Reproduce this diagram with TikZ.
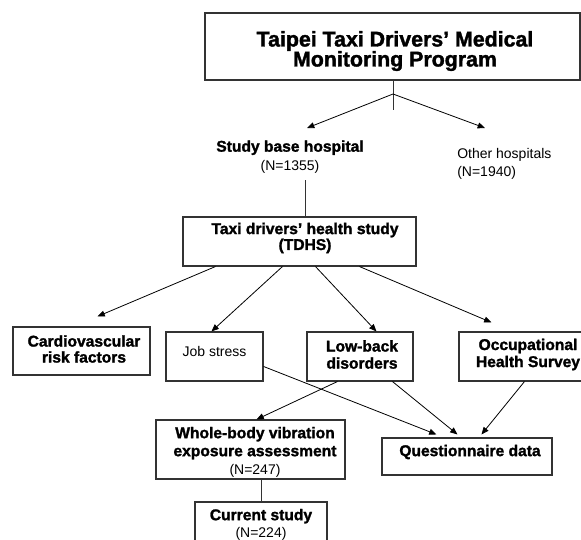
\documentclass[tikz,border=0pt]{standalone}
\usepackage{fontspec}
\setmainfont{Liberation Sans}[BoldFeatures={FakeBold=1.6}]
\usetikzlibrary{arrows.meta,calc}
\tikzset{
  box/.style={draw=black!80, line width=0.8pt, inner sep=0pt, fill=none},
  btxt/.style={font=\fontsize{11.7pt}{12.8pt}\selectfont\bfseries, align=center, inner sep=0pt},
  rtxt/.style={font=\fontsize{10.5pt}{13pt}\selectfont, inner sep=0pt},
  arr/.style={draw=black, line width=0.6pt, -{Triangle[length=5.5pt,width=4.5pt]}},
  plain/.style={draw=black!80, line width=0.7pt},
}
\begin{document}
\begin{tikzpicture}[x=0.75pt,y=-0.75pt]
\useasboundingbox (0,0) rectangle (581,539);
\clip (0,0) rectangle (581,539);
\fill[white] (0,0) rectangle (581,539);
% boxes
\node[box, minimum width=281.25pt, minimum height=50.25pt] (top) at (392.5,46.5) {};
\node[box, minimum width=174.75pt, minimum height=36.75pt] (tdhs) at (299.5,241.5) {};
\node[box, minimum width=102.75pt, minimum height=36pt] (cardio) at (81.5,351) {};
\node[box, minimum width=72.75pt, minimum height=36.75pt] (job) at (214.5,356.5) {};
\node[box, minimum width=79.5pt, minimum height=36.75pt] (lowback) at (360,356.5) {};
\node[box, minimum width=105.75pt, minimum height=36.75pt] (occ) at (529.5,356.5) {};
\node[box, minimum width=141.75pt, minimum height=44.25pt] (wbv) at (250.5,449.5) {};
\node[box, minimum width=127.5pt, minimum height=27.75pt] (q) at (467,456.5) {};
\node[box, minimum width=99pt, minimum height=43.5pt] (cur) at (261,531) {};
% texts
\node[btxt, font=\fontsize{16pt}{15pt}\selectfont\bfseries] (top-t) at (395,51) {Taipei Taxi Drivers’ Medical\\Monitoring Program};
\node[btxt, font=\fontsize{11.7pt}{14.25pt}\selectfont\bfseries] (sbh) at (290,157) {Study base hospital\\\mdseries\fontsize{10.5pt}{14.25pt}\selectfont (N=1355)};
\node[rtxt, anchor=west, align=left] (other) at (457,164) {Other hospitals\\(N=1940)};
\node[btxt, font=\fontsize{11.7pt}{10.8pt}\selectfont\bfseries] (tdhs-t) at (305,238) {Taxi drivers’ health study\\(TDHS)};
\node[btxt, font=\fontsize{11.7pt}{12pt}\selectfont\bfseries] (cardio-t) at (84,349) {Cardiovascular\\risk factors};
\node[rtxt] (job-t) at (214.5,351) {Job stress};
\node[btxt] (lowback-t) at (362,354.5) {Low-back\\disorders};
\node[btxt] (occ-t) at (528,354.5) {Occupational\\Health Survey};
\node[btxt, font=\fontsize{11.7pt}{13.5pt}\selectfont\bfseries] (wbv-t) at (255,452) {Whole-body vibration\\exposure assessment\\\mdseries\fontsize{10.5pt}{13.5pt}\selectfont (N=247)};
\node[btxt] (q-t) at (470,452) {Questionnaire data};
\node[btxt, font=\fontsize{11.7pt}{12.75pt}\selectfont\bfseries] (cur-t) at (261,524.5) {Current study\\\mdseries\fontsize{10.5pt}{12.75pt}\selectfont (N=224)};
% coordinates
\coordinate (j) at (393,94);
\coordinate (jt) at (393,110);
\coordinate (sbh-in) at (307,128);
\coordinate (other-in) at (485,128);
\coordinate (sbh-out) at (305,180);
% connectors
\draw[plain] (top.south -| j) -- (jt);
\draw[arr] (j) -- (sbh-in);
\draw[arr] (j) -- (other-in);
\draw[plain] (sbh-out) -- (tdhs.north -| sbh-out);
\draw[arr] ($(tdhs.south west)+(33,0)$) -- ($(cardio.north west)+(85,-10)$);
\draw[arr] ($(tdhs.south west)+(100,0)$) -- ($(job.north west)+(46,0)$);
\draw[arr] ($(tdhs.south west)+(133,0)$) -- ($(lowback.north west)+(70,0)$);
\draw[arr] ($(tdhs.south west)+(177,0)$) -- ($(occ.north west)+(33,-9)$);
\draw[arr] ($(job.north east)+(0,35)$) -- ($(q.north west)+(55,-3)$);
\draw[arr] ($(lowback.south west)+(31,0)$) -- ($(wbv.north west)+(101,0)$);
\draw[arr] ($(lowback.south west)+(86,0)$) -- ($(q.north west)+(76,-3)$);
\draw[arr] ($(occ.south west)+(66,0)$) -- ($(q.north west)+(100,-3)$);
\draw[plain] (cur.north |- wbv.south) -- (cur.north);
\end{tikzpicture}
\end{document}
